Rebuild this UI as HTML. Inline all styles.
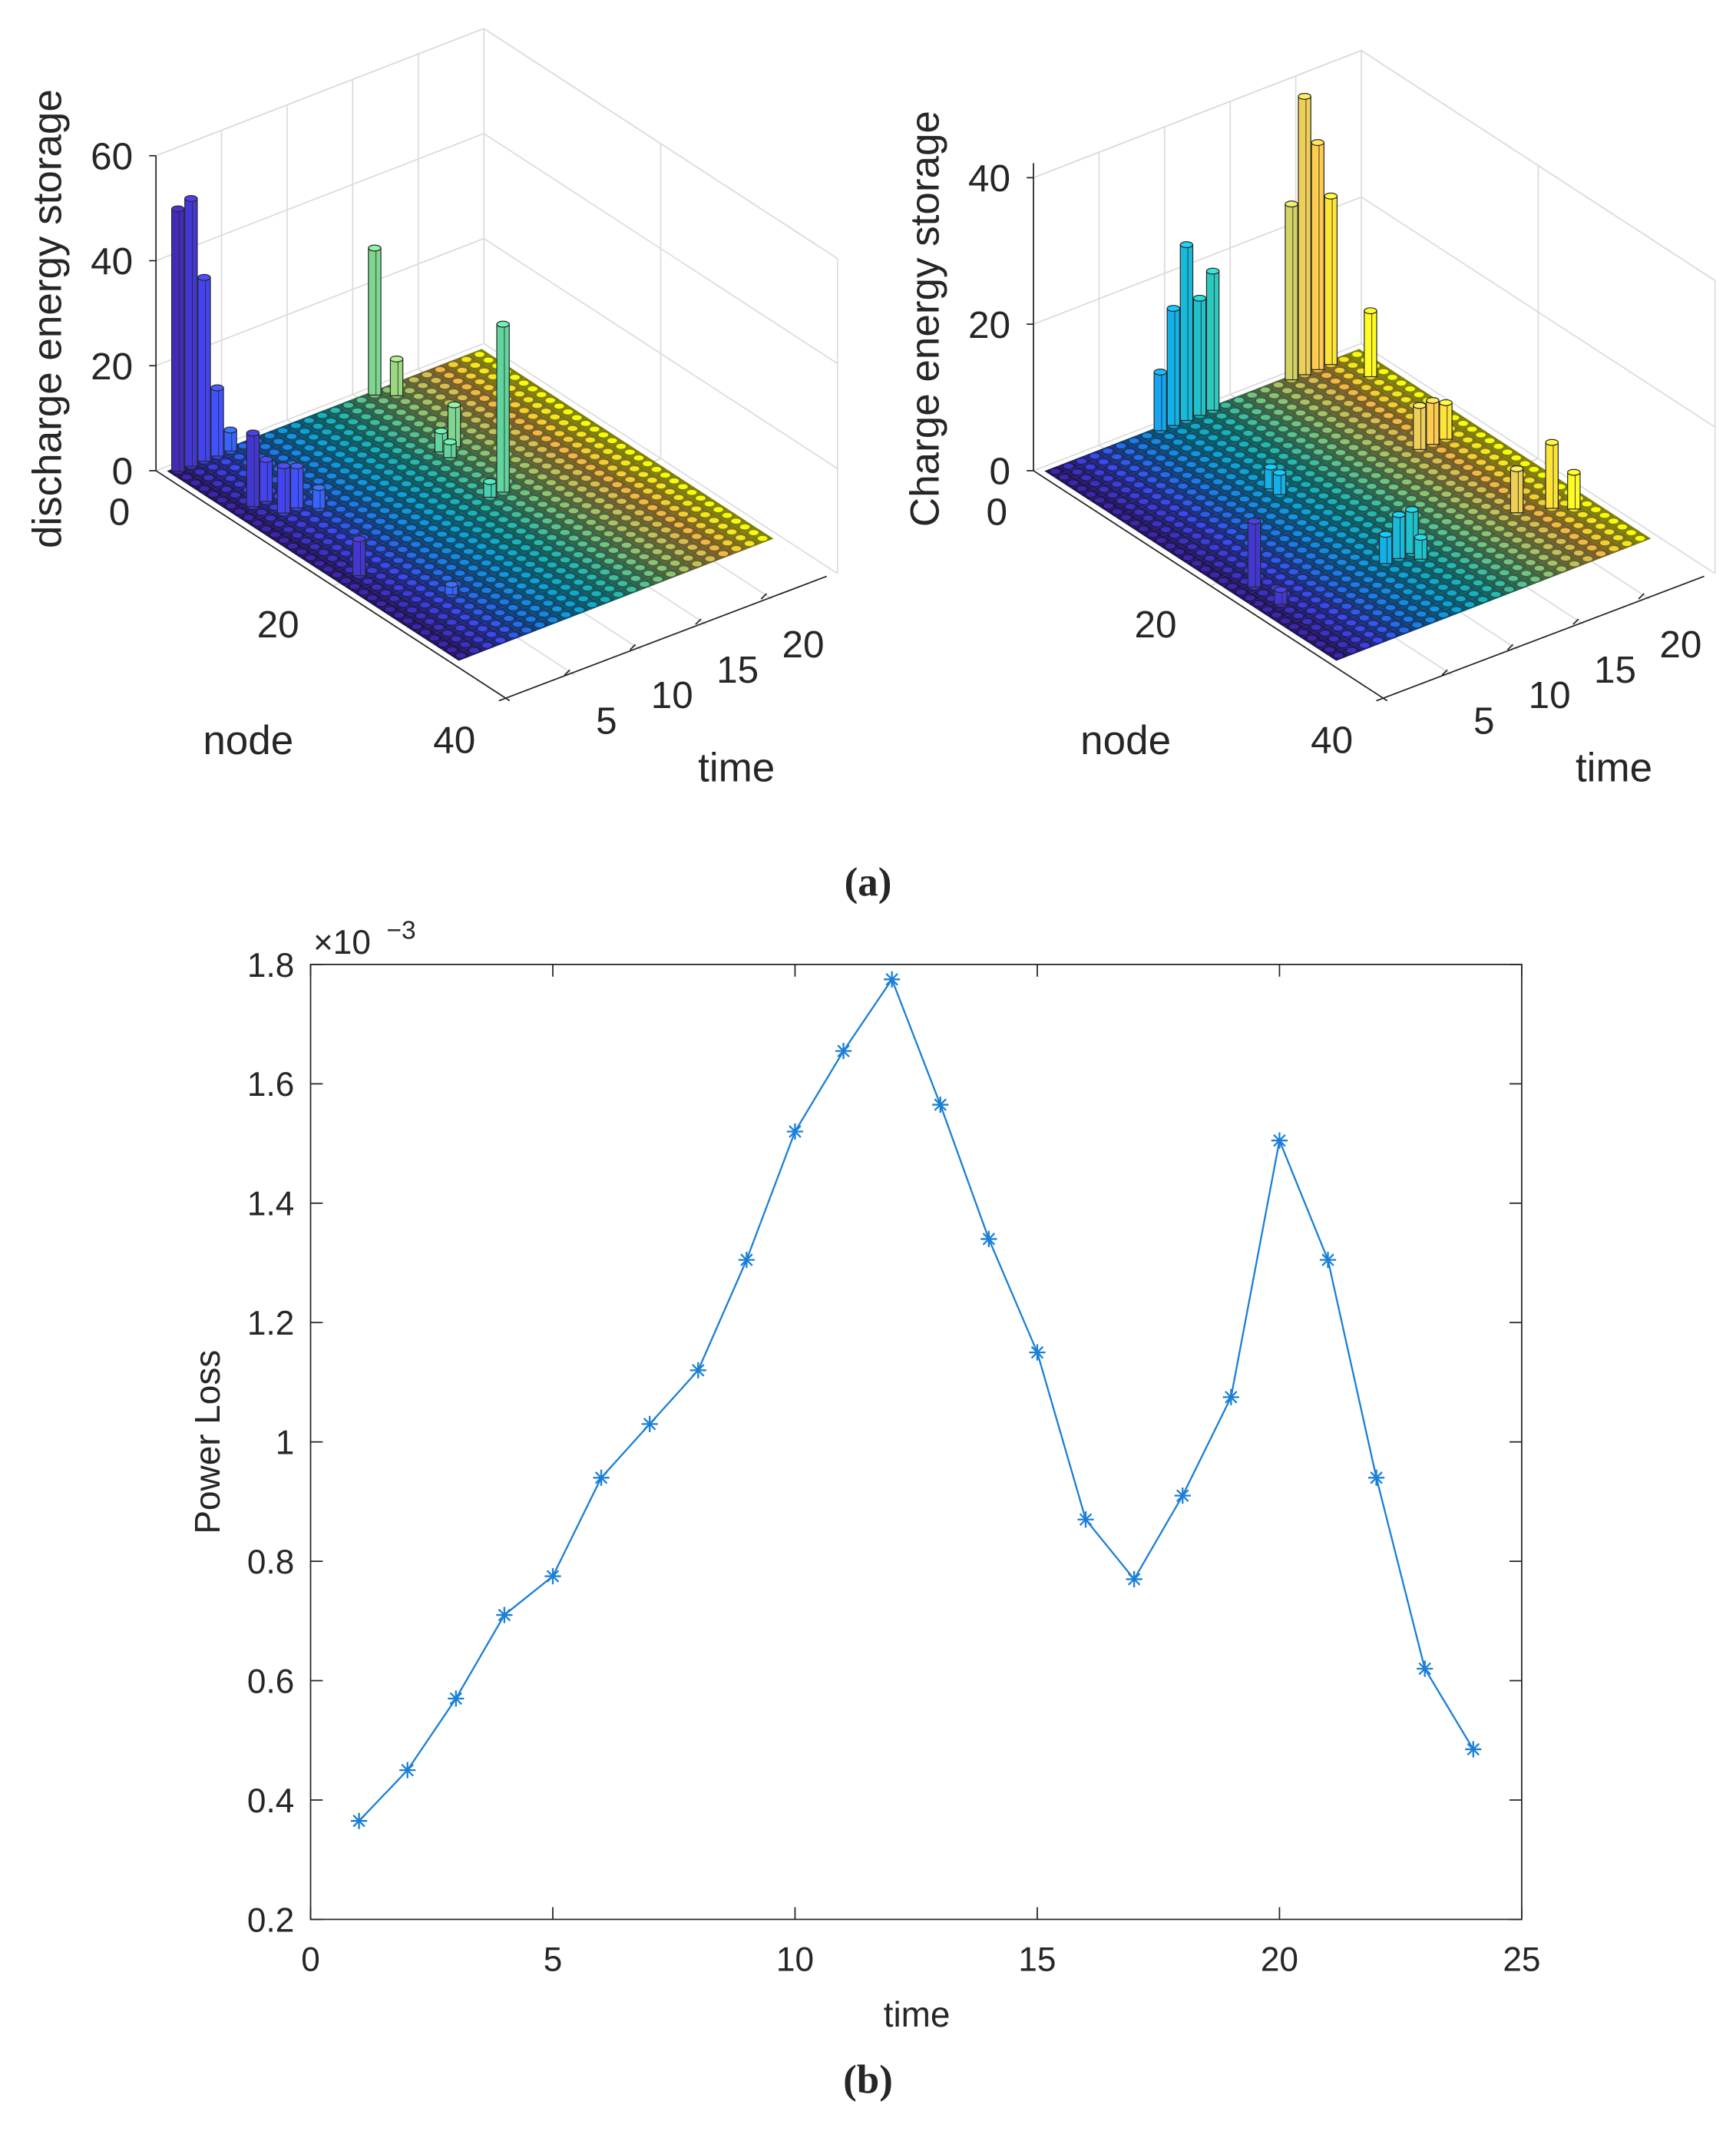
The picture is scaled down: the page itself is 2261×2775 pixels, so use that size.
<!DOCTYPE html>
<html><head><meta charset="utf-8"><style>
html,body{margin:0;padding:0;background:#fff;}
svg{display:block;}
text{font-family:"Liberation Sans",sans-serif;fill:#262626;}
</style></head><body>
<svg id="fig" width="2261" height="2775" viewBox="0 0 1280 1571" preserveAspectRatio="none" xmlns="http://www.w3.org/2000/svg">
<g id="p3a"></g>
<g id="p3b"></g>
<text x="640" y="660" text-anchor="middle" font-size="30" font-weight="bold" style="font-family:'Liberation Serif',serif">(a)</text>
<g id="p2"></g>
<text x="640" y="1543" text-anchor="middle" font-size="30" font-weight="bold" style="font-family:'Liberation Serif',serif">(b)</text>
</svg>
<script>
// ---- data: discharge (panel a left) ----
const dischargeNodes  = [1,1,1,1,1,8,8,10,10,11,20,26,1,2,10,11,10,17,17];
const dischargeTimes  = [1,2,3,4,5,2,3,3,4,5,2,5,16,17,15,15,16,15,14];
const dischargeValues = [50,51,35,13,4,14,8,9,8,4,7,2,28,7,4,3,8,32,3];
// ---- data: charge (panel a right) ----
const chargeNodes  = [1,1,1,1,1,1,1,1,1,4,12,13,22,25,25,25,25,26,14,14,14,25,26,27];
const chargeTimes  = [9,10,11,12,13,19,20,21,22,23,10,10,2,2,10,11,12,12,20,21,22,20,22,23];
const chargeValues = [8,16,24,16,19,24,38,31,23,9,3,3,9,2,4,6,6,3,6,6,5,6,9,5];
// ---- data: power loss (panel b) ----
const lossTime = [1,2,3,4,5,6,7,8,9,10,11,12,13,14,15,16,17,18,19,20,21,22,23,24];
const lossValues = [0.365,0.45,0.57,0.71,0.775,0.94,1.03,1.12,1.305,1.52,1.655,1.775,1.565,1.34,1.15,0.87,0.77,0.91,1.075,1.505,1.305,0.94,0.62,0.485];
const lossXTicks = [0,5,10,15,20,25];
const lossYTicks = [0.2,0.4,0.6,0.8,1,1.2,1.4,1.6,1.8];

const NS='http://www.w3.org/2000/svg';
function mk(parent,tag,attrs){const e=document.createElementNS(NS,tag);for(const k in attrs)e.setAttribute(k,attrs[k]);parent.appendChild(e);return e;}
const parulaStops=[[0,[62,38,168]],[0.12,[60,70,235]],[0.25,[30,120,230]],[0.38,[15,160,215]],[0.5,[30,180,180]],[0.62,[95,195,140]],[0.75,[175,195,100]],[0.87,[240,185,70]],[1,[249,251,14]]];
function parula(f){f=Math.max(0,Math.min(1,f));for(let i=1;i<parulaStops.length;i++){if(f<=parulaStops[i][0]){const a=parulaStops[i-1],b=parulaStops[i];const r=(f-a[0])/(b[0]-a[0]);const c=a[1].map((v,j)=>Math.round(v+(b[1][j]-v)*r));return c;}}return parulaStops[parulaStops.length-1][1];}
function rgb(c,k){k=k||1;return 'rgb('+c.map(v=>Math.round(Math.min(255,v*k))).join(',')+')';}

function draw3d(g,ox,zs,zTop,zTicks,label,nodes,times,vals){
  const P=(n,t,z)=>[ox+6.52*n+9.67*t, 347+4.24*n-3.75*t-zs*z];
  const pts=a=>a.map(p=>p.join(',')).join(' ');
  const grid='#dcdcdc';
  const H=zTop;
  for(const t of [5,10,15,20,25]){const a=P(0,t,0),b=P(0,t,H);const l=mk(g,'line',{x1:a[0],y1:a[1],x2:b[0],y2:b[1],stroke:grid,'stroke-width':1});}
  for(const n of [20,40]){const a=P(n,25,0),b=P(n,25,H);const l=mk(g,'line',{x1:a[0],y1:a[1],x2:b[0],y2:b[1],stroke:grid,'stroke-width':1});}
  for(const z of zTicks.concat([H])){const a=P(0,0,z),b=P(0,25,z),c=P(40,25,z);const l=mk(g,'polyline',{points:pts([a,b,c]),fill:'none',stroke:grid,'stroke-width':1});}
  for(const t of [5,10,15,20]){const a=P(0,t,0),b=P(40,t,0);const l=mk(g,'line',{x1:a[0],y1:a[1],x2:b[0],y2:b[1],stroke:grid,'stroke-width':1});}
  {const a=P(20,0,0),b=P(20,25,0);const l=mk(g,'line',{x1:a[0],y1:a[1],x2:b[0],y2:b[1],stroke:grid,'stroke-width':1});}
  for(let t=24;t>=1;t--){for(let n=1;n<=33;n++){
    const c=parula((t-1)/23);
    const q=mk(g,'polygon',{points:pts([P(n-0.5,t-0.5,0),P(n-0.5,t+0.5,0),P(n+0.5,t+0.5,0),P(n+0.5,t-0.5,0)]),fill:rgb(c,0.5),stroke:'none'});
    
    const m=P(n,t,0);
    const e=mk(g,'ellipse',{cx:m[0],cy:m[1],rx:3.6,ry:1.9,fill:rgb(c,1.0)});
    
  }}
  const idx=vals.map((v,i)=>i).sort((a,b)=>P(nodes[a],times[a],0)[1]-P(nodes[b],times[b],0)[1]);
  for(const i of idx){
    const c=parula((times[i]-1)/23);
    const b=P(nodes[i],times[i],0),t=P(nodes[i],times[i],vals[i]);
    const w=4.6;
    const bar=mk(g,'g',{});
    
    
    mk(bar,'rect',{x:t[0]-w,y:t[1],width:2*w,height:b[1]-t[1],fill:rgb(c,1.1),stroke:'#2a2a2a','stroke-width':0.7});
    mk(bar,'line',{x1:t[0]+1,y1:t[1],x2:b[0]+1,y2:b[1],stroke:'#2a2a2a','stroke-width':0.5});
    mk(bar,'ellipse',{cx:t[0],cy:t[1],rx:w,ry:2.2,fill:rgb(c,1.25),stroke:'#2a2a2a','stroke-width':0.7});
  }
  const ax='#262626';
  const z0=P(0,0,0),zt=P(0,0,zTicks[zTicks.length-1]+ (label.startsWith('d')?0:2));
  let l=mk(g,'line',{x1:z0[0],y1:z0[1],x2:zt[0],y2:zt[1],stroke:ax,'stroke-width':1});
  
  for(const z of zTicks){const p=P(0,0,z);
    mk(g,'line',{x1:p[0]-5,y1:p[1],x2:p[0],y2:p[1],stroke:ax});
    const tx=mk(g,'text',{x:p[0]-17,y:p[1]+10,'text-anchor':'end','font-size':28});tx.textContent=z;
    }
  const a1=P(0,0,0),a2=P(40,0,0);
  l=mk(g,'line',{x1:a1[0],y1:a1[1],x2:a2[0],y2:a2[1],stroke:ax,'stroke-width':1});
  
  const nl=[[0,-27,40],[20,90,123],[40,220,208]];
  for(const [n,dx,dy] of nl){const tx=mk(g,'text',{x:ox+dx,y:347+dy,'text-anchor':'middle','font-size':28});tx.textContent=n;
    }
  const b1=P(40,0,0),b2=P(40,25,0);
  l=mk(g,'line',{x1:b1[0]-8,y1:b1[1],x2:b2[0]-8,y2:b2[1]+2,stroke:ax,'stroke-width':1});
  
  for(const t of [5,10,15,20]){const p=P(40,t,0);
    mk(g,'line',{x1:p[0]-8,y1:p[1],x2:p[0]-4,y2:p[1]-4,stroke:ax});
    const tx=mk(g,'text',{x:p[0]+23,y:p[1]+43,'text-anchor':'middle','font-size':28});tx.textContent=t;
    }
  let tx=mk(g,'text',{x:ox+68,y:556,'text-anchor':'middle','font-size':30});tx.textContent='node';
  
  tx=mk(g,'text',{x:ox+428,y:576,'text-anchor':'middle','font-size':30});tx.textContent='time';
  
  tx=mk(g,'text',{x:0,y:0,'text-anchor':'middle','font-size':30,transform:'translate('+(ox-70)+',235) rotate(-90)'});tx.textContent=label;
  
}
draw3d(document.getElementById('p3a'),115,3.87,60,[0,20,40,60],'discharge energy storage',dischargeNodes,dischargeTimes,dischargeValues);
draw3d(document.getElementById('p3b'),762,5.4,40,[0,20,40],'Charge energy storage',chargeNodes,chargeTimes,chargeValues);

(function(){
  const g=document.getElementById('p2');
  const L=229,R=1122,T=711,B=1415;
  const xs=v=>L+(v-0)/(25-0)*(R-L);
  const ys=v=>B-(v-0.2)/(1.8-0.2)*(B-T);
  let r=mk(g,'rect',{x:L,y:T,width:R-L,height:B-T,fill:'#fff',stroke:'#262626','stroke-width':1});
  
  for(const v of lossXTicks){const x=xs(v);
    mk(g,'line',{x1:x,y1:B,x2:x,y2:B-9,stroke:'#262626'});mk(g,'line',{x1:x,y1:T,x2:x,y2:T+9,stroke:'#262626'});
    const t=mk(g,'text',{x:x,y:B+38,'text-anchor':'middle','font-size':25});t.textContent=v;
    }
  for(const v of lossYTicks){const y=ys(v);
    mk(g,'line',{x1:L,y1:y,x2:L+9,y2:y,stroke:'#262626'});mk(g,'line',{x1:R,y1:y,x2:R-9,y2:y,stroke:'#262626'});
    const t=mk(g,'text',{x:L-12,y:y+9,'text-anchor':'end','font-size':25});t.textContent=v;
    }
  let t=mk(g,'text',{x:231,y:703,'font-size':25});t.textContent='\u00d710';
  
  t=mk(g,'text',{x:285,y:692,'font-size':19});t.textContent='\u22123';
  
  t=mk(g,'text',{x:676,y:1494,'text-anchor':'middle','font-size':26});t.textContent='time';
  
  t=mk(g,'text',{x:0,y:0,'text-anchor':'middle','font-size':26,transform:'translate(162,1063) rotate(-90)'});t.textContent='Power Loss';
  
  const line=mk(g,'polyline',{points:lossTime.map((x,i)=>xs(x)+','+ys(lossValues[i])).join(' '),fill:'none',stroke:'#1a7fd6','stroke-width':1.3});
  
  lossTime.forEach((x,i)=>{const cx=xs(x),cy=ys(lossValues[i]);const s=6;
    const m=mk(g,'g',{stroke:'#1a7fd6','stroke-width':1.3});
    
    mk(m,'line',{x1:cx-s,y1:cy,x2:cx+s,y2:cy});mk(m,'line',{x1:cx,y1:cy-s,x2:cx,y2:cy+s});
    mk(m,'line',{x1:cx-s*0.7,y1:cy-s*0.7,x2:cx+s*0.7,y2:cy+s*0.7});mk(m,'line',{x1:cx-s*0.7,y1:cy+s*0.7,x2:cx+s*0.7,y2:cy-s*0.7});
  });
})();
</script>
</body></html>
